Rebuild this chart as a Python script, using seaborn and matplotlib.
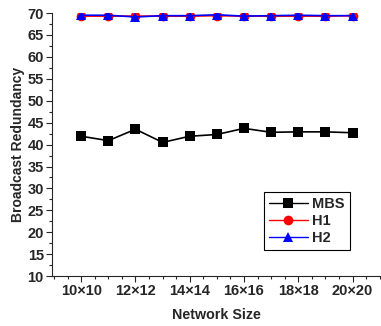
import pandas as pd
import matplotlib
matplotlib.use('Agg')
import matplotlib.pyplot as plt
import seaborn as sns
from matplotlib.ticker import MultipleLocator

# data
sizes = ['10×10', '11×11', '12×12', '13×13', '14×14', '15×15',
         '16×16', '17×17', '18×18', '19×19', '20×20']
mbs = [41.9, 40.9, 43.5, 40.5, 41.9, 42.3, 43.7, 42.8, 42.9, 42.9, 42.7]
h1 = [69.3, 69.3, 69.3, 69.3, 69.3, 69.4, 69.3, 69.3, 69.3, 69.3, 69.4]
h2 = [69.5, 69.5, 69.1, 69.4, 69.4, 69.6, 69.3, 69.4, 69.5, 69.4, 69.4]

rows = []
for name, vals in [('MBS', mbs), ('H1', h1), ('H2', h2)]:
    for i, v in enumerate(vals):
        rows.append({'pos': i, 'size': sizes[i], 'value': v, 'method': name})
df = pd.DataFrame(rows)

sns.set_style("ticks")
plt.rcParams['font.family'] = ['Liberation Sans', 'DejaVu Sans']
plt.rcParams['font.weight'] = 'bold'

fig = plt.figure(figsize=(3.81, 3.26), dpi=100)
ax = fig.add_axes([0.137, 0.153, 0.863, 0.807])

palette = {'MBS': 'black', 'H1': 'red', 'H2': 'blue'}
markers = {'MBS': 's', 'H1': 'o', 'H2': '^'}
sns.lineplot(data=df, x='pos', y='value', hue='method', style='method',
             palette=palette, markers=markers, dashes=False,
             markersize=7, linewidth=1.2, markeredgewidth=0, ax=ax)

ax.set_xlim(-1.07, 11.05)
ax.set_ylim(10, 70)
ax.set_xticks(range(0, 11, 2))
ax.set_xticklabels(sizes[::2], fontsize=10.5, fontweight='bold')
ax.xaxis.set_minor_locator(MultipleLocator(0.5))
ax.yaxis.set_major_locator(MultipleLocator(5))
ax.yaxis.set_minor_locator(MultipleLocator(2.5))
for lbl in ax.get_yticklabels():
    lbl.set_fontsize(10.5)
    lbl.set_fontweight('bold')
ax.tick_params(which='major', length=4, width=0.8, pad=2)
ax.tick_params(which='minor', length=2.5, width=0.8)
ax.spines['top'].set_visible(False)
ax.spines['right'].set_visible(False)

ax.set_xlabel('Network Size', fontsize=10.3, fontweight='bold', labelpad=7)
ax.set_ylabel('Broadcast Redundancy', fontsize=10, fontweight='bold', labelpad=2)

leg = ax.legend(loc='lower right', bbox_to_anchor=(0.906, 0.099),
                borderaxespad=0, fancybox=False, edgecolor='black',
                framealpha=1, prop={'weight': 'bold', 'size': 10.5},
                handlelength=2.7, borderpad=0.35, labelspacing=0.2,
                handletextpad=0.3)
leg.get_frame().set_linewidth(0.8)
for line in leg.get_lines():
    line.set_linewidth(1.0)

plt.savefig('out.png', dpi=100)
plt.close()
